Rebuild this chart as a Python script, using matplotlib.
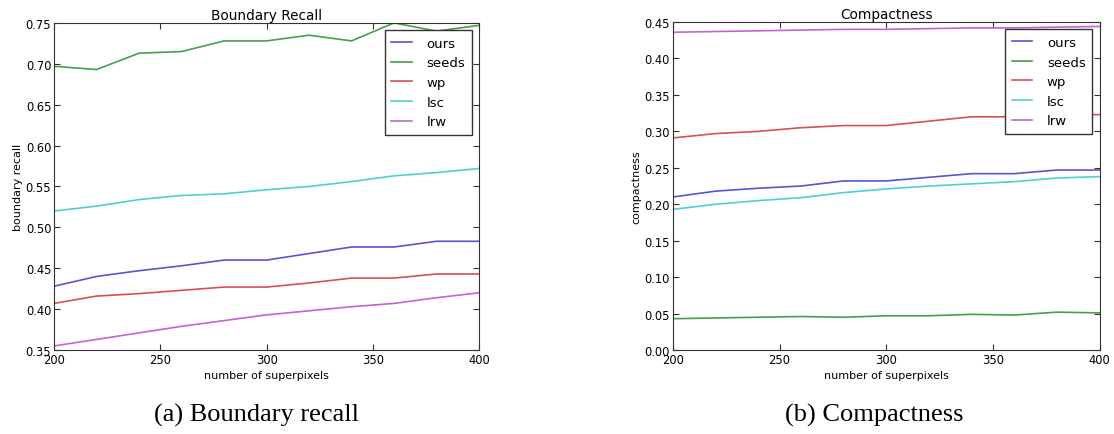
import numpy as np
import matplotlib.pyplot as plt

# number of superpixels
superpixels = [200, 220, 240, 260, 280, 300, 320, 340, 360, 380, 400]
methods = ['ours', 'seeds', 'wp', 'lsc', 'lrw']
colors = ['#5555d5', '#4a9e4a', '#d85050', '#4fd0d0', '#c462d4']

recall_ours = [0.428, 0.440, 0.447, 0.453, 0.460, 0.460, 0.468, 0.476, 0.476, 0.483, 0.483]
recall_seeds = [0.697, 0.693, 0.713, 0.715, 0.728, 0.728, 0.735, 0.728, 0.750, 0.740, 0.747]
recall_wp = [0.407, 0.416, 0.419, 0.423, 0.427, 0.427, 0.432, 0.438, 0.438, 0.443, 0.443]
recall_lsc = [0.520, 0.526, 0.534, 0.539, 0.541, 0.546, 0.550, 0.556, 0.563, 0.567, 0.572]
recall_lrw = [0.355, 0.363, 0.371, 0.379, 0.386, 0.393, 0.398, 0.403, 0.407, 0.414, 0.420]

compact_ours = [0.210, 0.218, 0.222, 0.225, 0.232, 0.232, 0.237, 0.242, 0.242, 0.247, 0.247]
compact_seeds = [0.043, 0.044, 0.045, 0.046, 0.045, 0.047, 0.047, 0.049, 0.048, 0.052, 0.051]
compact_wp = [0.291, 0.297, 0.300, 0.305, 0.308, 0.308, 0.314, 0.320, 0.320, 0.323, 0.323]
compact_lsc = [0.193, 0.200, 0.205, 0.209, 0.216, 0.221, 0.225, 0.228, 0.231, 0.236, 0.238]
compact_lrw = [0.436, 0.437, 0.438, 0.439, 0.440, 0.440, 0.441, 0.442, 0.442, 0.443, 0.444]

recall = [recall_ours, recall_seeds, recall_wp, recall_lsc, recall_lrw]
compact = [compact_ours, compact_seeds, compact_wp, compact_lsc, compact_lrw]


def draw_panel(ax, series, title, ylabel, ylim, yticks):
  for name, vals, c in zip(methods, series, colors):
    ax.plot(superpixels, vals, color=c, lw=1.2, label=name)
  ax.set_xlim(200, 400)
  ax.set_ylim(*ylim)
  ax.set_xticks([200, 250, 300, 350, 400])
  ax.set_yticks(yticks)
  ax.set_yticklabels(['%.2f' % t for t in yticks])
  ax.set_title(title, fontsize=9.8, pad=3)
  ax.set_ylabel(ylabel, fontsize=8, labelpad=2)
  ax.set_xlabel('number of superpixels', fontsize=8, labelpad=3)
  ax.tick_params(direction='in', top=True, right=True, labelsize=8.3,
                 length=4, pad=2, color='#333333')
  for s in ax.spines.values():
    s.set_color('#333333')
  leg = ax.legend(loc='upper right', fontsize=9.5, fancybox=False,
                  handlelength=1.55, handletextpad=1.1, labelspacing=0.5,
                  borderpad=0.5, borderaxespad=0.55, framealpha=1)
  leg.get_frame().set_edgecolor('#333333')
  leg.get_frame().set_linewidth(1.0)


fig = plt.figure(figsize=(11.14, 4.35), dpi=100)
ax1 = fig.add_axes([0.0485, 0.193, 0.3815, 0.752])
ax2 = fig.add_axes([0.604, 0.193, 0.383, 0.754])

draw_panel(ax1, recall, 'Boundary Recall', 'boundary recall', (0.35, 0.75),
           np.arange(0.35, 0.751, 0.05))
draw_panel(ax2, compact, 'Compactness', 'compactness', (0.0, 0.45),
           np.arange(0.0, 0.451, 0.05))

fig.text(0.23, 0.045, '(a) Boundary recall', ha='center', va='center',
         fontsize=19, family='Liberation Serif')
fig.text(0.785, 0.045, '(b) Compactness', ha='center', va='center',
         fontsize=19, family='Liberation Serif')

fig.savefig('out.png', dpi=100)
